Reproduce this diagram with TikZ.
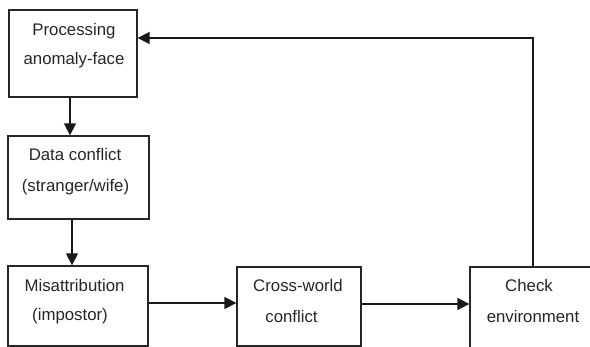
\documentclass[tikz,border=0pt]{standalone}
\usepackage{fontspec}
\setmainfont{Liberation Sans}
\usetikzlibrary{arrows.meta}
\begin{document}
\begin{tikzpicture}[x=1pt,y=-1pt,
  box/.style={draw=black!85, line width=1.3pt},
  lbl/.style={anchor=base, inner sep=0pt, font=\fontsize{16.8}{20}\selectfont, text=black!85},
  conn/.style={line width=1.6pt, draw=black!90, -{Triangle[length=12pt,width=12pt]}}]
\useasboundingbox (0,0) rectangle (590,347);
% boxes
\node[box, minimum width=128pt, minimum height=87pt, inner sep=0pt] (b1) at (73,53.5) {};
\node[box, minimum width=141pt, minimum height=83pt, inner sep=0pt] (b2) at (78.5,177.5) {};
\node[box, minimum width=140pt, minimum height=80pt, inner sep=0pt] (b3) at (78,306) {};
\node[box, minimum width=124pt, minimum height=79pt, inner sep=0pt] (b4) at (299,306.5) {};
\node[box, minimum width=140pt, minimum height=85pt, inner sep=0pt] (b5) at (540,309.5) {};
% texts
\node[lbl] (t1a) at (74,36) {Processing};
\node[lbl] (t1b) at (74,65) {anomaly-face};
\node[lbl] (t2a) at (75,161) {Data conflict};
\node[lbl] (t2b) at (75.5,192) {(stranger/wife)};
\node[lbl] (t3a) at (74.5,292) {Misattribution};
\node[lbl] (t3b) at (70,321) {(impostor)};
\node[lbl] (t4a) at (298,292) {Cross-world};
\node[lbl] (t4b) at (291.5,323) {conflict};
\node[lbl] (t5a) at (529,292) {Check};
\node[lbl] (t5b) at (533,323) {environment};
% connectors
\coordinate (c1) at (70,0);
\coordinate (c2) at (72,0);
\coordinate (c3) at (0,303);
\coordinate (c4) at (0,304);
\coordinate (k1) at (533,38);
\draw[conn] (c1 |- b1.south) -- (c1 |- b2.north);
\draw[conn] (c2 |- b2.south) -- (c2 |- b3.north);
\draw[conn] (b3.east |- c3) -- (b4.west |- c3);
\draw[conn] (b4.east |- c4) -- (b5.west |- c4);
\draw[conn] (k1 |- b5.north) -- (k1) -- (b1.east |- k1);
\end{tikzpicture}
\end{document}
